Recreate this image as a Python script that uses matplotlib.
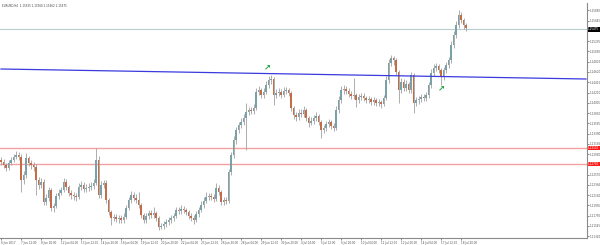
import numpy as np
import matplotlib
matplotlib.use("Agg")
from matplotlib import pyplot as plt
from matplotlib import transforms

# EURUSD H4 closes
closes = [
    1.1282, 1.1276, 1.1270, 1.1280, 1.1286, 1.1292, 1.1296, 1.1292, 1.1246, 1.1256,
    1.1290, 1.1280, 1.1276, 1.1272, 1.1246, 1.1236, 1.1242, 1.1202, 1.1210, 1.1226,
    1.1190, 1.1194, 1.1214, 1.1220, 1.1226, 1.1242, 1.1232, 1.1220, 1.1216, 1.1214,
    1.1212, 1.1232, 1.1236, 1.1228, 1.1230, 1.1232, 1.1234, 1.1240, 1.1286, 1.1216,
    1.1236, 1.1240, 1.1206, 1.1182, 1.1170, 1.1172, 1.1168, 1.1170, 1.1166, 1.1172,
    1.1190, 1.1206, 1.1216, 1.1210, 1.1206, 1.1196, 1.1176, 1.1166, 1.1174, 1.1180,
    1.1176, 1.1180, 1.1170, 1.1152, 1.1154, 1.1158, 1.1162, 1.1166, 1.1170, 1.1174,
    1.1186, 1.1184, 1.1188, 1.1186, 1.1182, 1.1174, 1.1170, 1.1166, 1.1178, 1.1186,
    1.1196, 1.1204, 1.1212, 1.1214, 1.1212, 1.1208, 1.1230, 1.1222, 1.1202, 1.1206,
    1.1204, 1.1262, 1.1296, 1.1326, 1.1346, 1.1356, 1.1362, 1.1370, 1.1382, 1.1386,
    1.1384, 1.1390, 1.1422, 1.1426, 1.1416, 1.1422, 1.1436, 1.1446, 1.1448, 1.1416,
    1.1420, 1.1422, 1.1416, 1.1424, 1.1426, 1.1420, 1.1390, 1.1376, 1.1372, 1.1380,
    1.1378, 1.1386, 1.1370, 1.1360, 1.1364, 1.1370, 1.1374, 1.1362, 1.1346, 1.1350,
    1.1358, 1.1362, 1.1354, 1.1350, 1.1386, 1.1406, 1.1426, 1.1428, 1.1424, 1.1418,
    1.1414, 1.1416, 1.1406, 1.1412, 1.1414, 1.1410, 1.1406, 1.1408, 1.1402, 1.1406,
    1.1400, 1.1402, 1.1398, 1.1410, 1.1446, 1.1480, 1.1490, 1.1486, 1.1462, 1.1426,
    1.1442, 1.1430, 1.1438, 1.1426, 1.1456, 1.1400, 1.1406, 1.1408, 1.1412, 1.1410,
    1.1416, 1.1436, 1.1460, 1.1470, 1.1474, 1.1466, 1.1452, 1.1466, 1.1476, 1.1486,
    1.1516, 1.1536, 1.1556, 1.1576, 1.1566, 1.1556, 1.1550,
]
first_open = 1.1286
highs = [
    1.1292, 1.1288, 1.1280, 1.1286, 1.1292, 1.1298, 1.1304, 1.1302, 1.1298, 1.1264,
    1.1300, 1.1294, 1.1286, 1.1282, 1.1278, 1.1252, 1.1250, 1.1248, 1.1218, 1.1232,
    1.1230, 1.1200, 1.1220, 1.1228, 1.1232, 1.1250, 1.1248, 1.1236, 1.1226, 1.1222,
    1.1220, 1.1240, 1.1244, 1.1242, 1.1238, 1.1240, 1.1242, 1.1248, 1.1310, 1.1294,
    1.1244, 1.1246, 1.1246, 1.1210, 1.1186, 1.1178, 1.1178, 1.1176, 1.1176, 1.1180,
    1.1196, 1.1212, 1.1224, 1.1222, 1.1218, 1.1222, 1.1200, 1.1180, 1.1180, 1.1186,
    1.1186, 1.1192, 1.1184, 1.1174, 1.1160, 1.1164, 1.1168, 1.1172, 1.1176, 1.1180,
    1.1192, 1.1192, 1.1196, 1.1194, 1.1190, 1.1186, 1.1180, 1.1176, 1.1184, 1.1192,
    1.1204, 1.1212, 1.1222, 1.1220, 1.1220, 1.1218, 1.1240, 1.1236, 1.1226, 1.1212,
    1.1212, 1.1268, 1.1302, 1.1334, 1.1352, 1.1362, 1.1370, 1.1378, 1.1400, 1.1392,
    1.1392, 1.1398, 1.1430, 1.1434, 1.1430, 1.1430, 1.1444, 1.1454, 1.1456, 1.1452,
    1.1428, 1.1430, 1.1428, 1.1432, 1.1432, 1.1430, 1.1424, 1.1394, 1.1382, 1.1388,
    1.1388, 1.1394, 1.1390, 1.1374, 1.1372, 1.1376, 1.1382, 1.1378, 1.1366, 1.1356,
    1.1364, 1.1368, 1.1366, 1.1360, 1.1394, 1.1414, 1.1434, 1.1436, 1.1434, 1.1430,
    1.1424, 1.1450, 1.1420, 1.1418, 1.1420, 1.1420, 1.1414, 1.1414, 1.1412, 1.1412,
    1.1410, 1.1408, 1.1406, 1.1416, 1.1454, 1.1488, 1.1496, 1.1494, 1.1490, 1.1466,
    1.1450, 1.1448, 1.1446, 1.1442, 1.1462, 1.1460, 1.1412, 1.1414, 1.1418, 1.1418,
    1.1422, 1.1442, 1.1468, 1.1478, 1.1480, 1.1478, 1.1470, 1.1472, 1.1482, 1.1492,
    1.1524, 1.1544, 1.1564, 1.1586, 1.1582, 1.1570, 1.1560,
]
lows = [
    1.1276, 1.1270, 1.1264, 1.1266, 1.1276, 1.1282, 1.1288, 1.1286, 1.1222, 1.1238,
    1.1250, 1.1274, 1.1268, 1.1264, 1.1216, 1.1228, 1.1230, 1.1196, 1.1196, 1.1204,
    1.1184, 1.1182, 1.1190, 1.1208, 1.1216, 1.1222, 1.1226, 1.1214, 1.1208, 1.1206,
    1.1204, 1.1208, 1.1226, 1.1222, 1.1222, 1.1224, 1.1226, 1.1228, 1.1236, 1.1210,
    1.1210, 1.1230, 1.1200, 1.1176, 1.1156, 1.1164, 1.1162, 1.1160, 1.1160, 1.1160,
    1.1168, 1.1186, 1.1200, 1.1204, 1.1200, 1.1190, 1.1170, 1.1160, 1.1160, 1.1168,
    1.1170, 1.1170, 1.1164, 1.1146, 1.1148, 1.1148, 1.1152, 1.1156, 1.1160, 1.1164,
    1.1170, 1.1178, 1.1178, 1.1180, 1.1176, 1.1168, 1.1164, 1.1158, 1.1162, 1.1172,
    1.1182, 1.1190, 1.1200, 1.1206, 1.1206, 1.1202, 1.1204, 1.1216, 1.1196, 1.1196,
    1.1198, 1.1200, 1.1256, 1.1290, 1.1318, 1.1340, 1.1350, 1.1356, 1.1306, 1.1376,
    1.1378, 1.1378, 1.1386, 1.1416, 1.1410, 1.1410, 1.1418, 1.1430, 1.1438, 1.1396,
    1.1410, 1.1414, 1.1410, 1.1412, 1.1418, 1.1414, 1.1384, 1.1368, 1.1364, 1.1366,
    1.1372, 1.1372, 1.1364, 1.1352, 1.1356, 1.1358, 1.1364, 1.1356, 1.1330, 1.1340,
    1.1344, 1.1352, 1.1348, 1.1344, 1.1346, 1.1380, 1.1400, 1.1418, 1.1418, 1.1412,
    1.1408, 1.1408, 1.1392, 1.1400, 1.1406, 1.1404, 1.1400, 1.1400, 1.1396, 1.1396,
    1.1394, 1.1394, 1.1390, 1.1394, 1.1406, 1.1440, 1.1474, 1.1476, 1.1456, 1.1400,
    1.1420, 1.1424, 1.1424, 1.1420, 1.1420, 1.1380, 1.1394, 1.1398, 1.1402, 1.1404,
    1.1404, 1.1410, 1.1430, 1.1454, 1.1464, 1.1460, 1.1436, 1.1446, 1.1460, 1.1470,
    1.1480, 1.1510, 1.1530, 1.1550, 1.1560, 1.1548, 1.1544,
]

date_labels = [
    "6 Jun 2017", "7 Jun 12:00", "8 Jun 20:00", "12 Jun 04:00", "13 Jun 12:00",
    "14 Jun 20:00", "16 Jun 04:00", "19 Jun 12:00", "20 Jun 20:00", "22 Jun 04:00",
    "23 Jun 12:00", "26 Jun 20:00", "28 Jun 04:00", "29 Jun 12:00", "30 Jun 20:00",
    "4 Jul 04:00", "5 Jul 12:00", "6 Jul 20:00", "10 Jul 04:00", "11 Jul 12:00",
    "12 Jul 20:00", "14 Jul 04:00", "17 Jul 12:00", "18 Jul 20:00",
]
label_every = 8

price_ticks = [1.15850, 1.15645, 1.15440, 1.15235, 1.15030, 1.14825, 1.14620,
               1.14415, 1.14210, 1.14005, 1.13800, 1.13595, 1.13390, 1.13185,
               1.12980, 1.12775, 1.12570, 1.12365, 1.12160, 1.11955, 1.11750,
               1.11545, 1.11340]
# labels hidden behind the price boxes
hidden_ticks = [1.15440, 1.12775]

current_price = 1.15475
support_levels = [1.1310, 1.1278]
trend_bars = [0, 234]
trend_prices = [1.1468, 1.1448]
arrow_bars = [106.4, 176]
arrow_prices = [1.1472, 1.1430]

opens = [first_open] + closes[:-1]
n = len(closes)
idx = np.arange(n)
o = np.array(opens)
c = np.array(closes)

up_col = "#79a1a9"
dn_col = "#c56c46"
wick_col = "#a0a0a0"
small = 2.0

fig = plt.figure(figsize=(6, 2.45), dpi=100)
ax = fig.add_axes([0, 7 / 245, 587 / 600, 235 / 245])

# wicks then bodies
ax.vlines(idx, lows, highs, color=wick_col, linewidth=0.6, zorder=2)
up = c >= o
body_h = np.abs(c - o)
body_h = np.where(body_h < 0.00008, 0.00008, body_h)
bottom = np.minimum(o, c)
ax.bar(idx[up], body_h[up], bottom=bottom[up], width=0.65, color=up_col,
       linewidth=0, zorder=3)
ax.bar(idx[~up], body_h[~up], bottom=bottom[~up], width=0.65, color=dn_col,
       linewidth=0, zorder=3)

# horizontal levels and trend line
ax.axhline(current_price, color="#b9cdd1", linewidth=0.8, zorder=1)
for lvl in support_levels:
    ax.axhline(lvl, color="#f4a0a0", linewidth=1.0, zorder=1)
ax.plot(trend_bars, trend_prices, color="#3a3ae0", linewidth=0.9, zorder=4)

for xb, yp in zip(arrow_bars, arrow_prices):
    ax.text(xb, yp, "\u2197", color="#1fa23c", fontsize=6, fontweight="bold",
            ha="center", va="center", zorder=5)

ax.set_xlim(-0.4, 234.4)
ax.set_ylim(1.1130, 1.1600)

for s in ["top", "left"]:
    ax.spines[s].set_visible(False)
for s in ["right", "bottom"]:
    ax.spines[s].set_color("#8a8a8a")
    ax.spines[s].set_linewidth(0.8)

ax.yaxis.tick_right()
ax.set_yticks(price_ticks)
ax.set_yticklabels(["" if p in hidden_ticks else "%.5f" % p for p in price_ticks])
ax.tick_params(axis="y", length=1.5, width=0.5, pad=0.6, labelsize=small,
               colors="#555555")

xt = [i * label_every for i in range(len(date_labels))]
ax.set_xticks(xt)
ax.set_xticklabels(date_labels, ha="left")
ax.tick_params(axis="x", length=1.5, width=0.5, pad=0.5, labelsize=small,
               colors="#555555")

# price boxes on the axis
trans = transforms.blended_transform_factory(ax.transAxes, ax.transData)
ax.text(1.002, current_price, "%.5f" % current_price, transform=trans,
        fontsize=small, color="white", va="center", ha="left",
        bbox=dict(boxstyle="square,pad=0.15", fc="black", ec="none"), clip_on=False)
for lvl in support_levels:
    ax.text(1.002, lvl, "%.5f" % lvl, transform=trans, fontsize=small,
            color="white", va="center", ha="left",
            bbox=dict(boxstyle="square,pad=0.15", fc="#ff1a1a", ec="none"),
            clip_on=False)

fig.text(0.004, 0.985, "EURUSD,H4  1.15535 1.15560 1.15462 1.15475",
         fontsize=small, color="#444444", va="top", ha="left")

fig.savefig("out.png", dpi=100)
